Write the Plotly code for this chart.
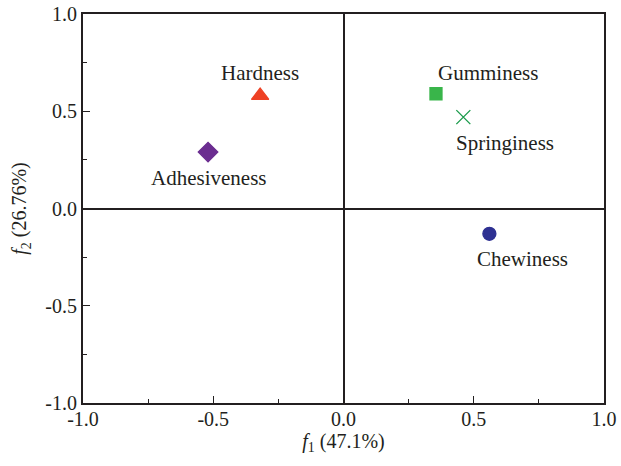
import plotly.graph_objects as go

names = ["Hardness", "Adhesiveness", "Gumminess", "Springiness", "Chewiness"]
f1 = [-0.32, -0.52, 0.355, 0.46, 0.56]
f2 = [0.58, 0.29, 0.59, 0.47, -0.13]
tick_vals = [-1.0, -0.5, 0.0, 0.5, 1.0]
tick_text = ["-1.0", "-0.5", "0.0", "0.5", "1.0"]

symbols = ["triangle-up", "diamond", "square", "x-thin-open", "circle"]
colors = ["#ee4124", "#6b2d90", "#39b54a", "#1a9b4b", "#2e3192"]
sizes = [15, 15, 12, 14, 13]
# label offsets in px (style)
lab_dx = [0, 0, 52, 42, 33]
lab_dy = [23, -26, 21, -26, -25]

FONT = "Liberation Serif"
INK = "#231f20"

fig = go.Figure()
for i in range(len(names)):
    fig.add_trace(go.Scatter(
        x=[f1[i]], y=[f2[i]], mode="markers",
        marker=dict(symbol=symbols[i], color=colors[i], size=sizes[i],
                    line=dict(width=1.3, color=colors[i])),
        showlegend=False, hoverinfo="skip"))
    fig.add_annotation(x=f1[i], y=f2[i], text=names[i], showarrow=False,
                       xshift=lab_dx[i], yshift=lab_dy[i],
                       font=dict(family=FONT, size=21, color=INK))

axis_common = dict(
    range=[-1, 1], tickvals=tick_vals, ticktext=tick_text,
    ticks="inside", ticklen=7, tickwidth=1.2, tickcolor=INK,
    minor=dict(ticks="inside", ticklen=4, dtick=0.25, tick0=0, tickcolor=INK, tickwidth=1.2),
    showline=True, linecolor=INK, linewidth=2, mirror=True,
    showgrid=False, zeroline=True, zerolinecolor=INK, zerolinewidth=2,
    tickfont=dict(family=FONT, size=20, color=INK),
    fixedrange=True, automargin=False,
)

fig.update_xaxes(**axis_common, ticklabelstandoff=-3,
                 title=dict(text="<i>f</i><sub>1</sub> (47.1%)", standoff=2,
                            font=dict(family=FONT, size=20, color=INK)))
fig.update_yaxes(**axis_common,
                 title=dict(text="<i>f</i><sub>2</sub> (26.76%)", standoff=13,
                            font=dict(family=FONT, size=20, color=INK)))

fig.update_layout(
    width=621, height=466,
    margin=dict(l=83, r=17, t=14, b=63),
    plot_bgcolor="white", paper_bgcolor="white",
)

fig.write_html("out.html",
               config={"displayModeBar": False, "staticPlot": True},
               post_script="document.body.style.margin='0';document.body.style.overflow='hidden';")
